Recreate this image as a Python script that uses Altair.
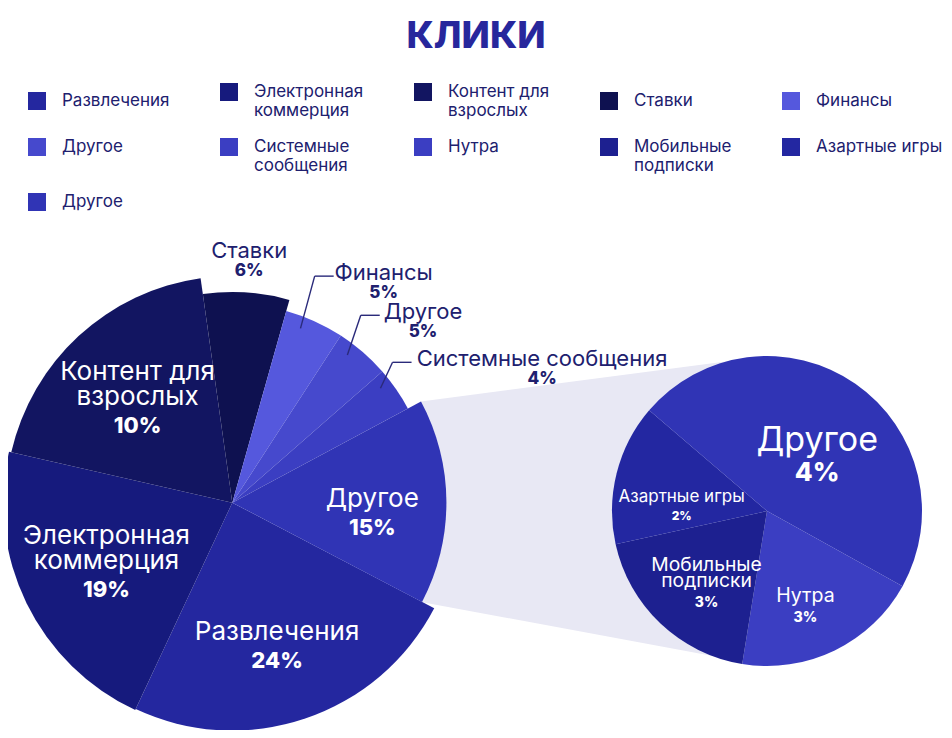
import math
import altair as alt
import pandas as pd

FONT = "Inter"
TITLE = "КЛИКИ"

# ---- data ----
main_names = ["Развлечения", "Электронная коммерция", "Контент для взрослых", "Ставки",
              "Финансы", "Другое", "Системные сообщения", "Другое"]
main_values = [24.3, 21.6, 19.2, 6.6, 4.8, 4.4, 3.6, 15.5]
main_labels = ["24%", "19%", "10%", "6%", "5%", "5%", "4%", "15%"]
main_z = [99.5, 100, 99, 92, 87, 87, 87, 93.5]
main_colors = ["#24279f", "#161a7d", "#121561", "#0e1150", "#5558dd", "#4649cd", "#3b3ec2", "#3034b5"]

sub_names = ["Нутра", "Мобильные подписки", "Азартные игры", "Другое"]
sub_values = [19.5, 19.0, 14.7, 46.8]
sub_labels = ["3%", "3%", "2%", "4%"]
sub_colors = ["#3b3ec2", "#1d2090", "#2327a1", "#3034b5"]

drill = len(main_names) - 1  # the main slice that is broken out into the small pie

# ---- layout (view coordinates) ----
W, H, PAD_TOP = 936, 662, 60
MAIN_C = (224.3, 434.7)
MAIN_R = 229
MAIN_START = 117.6
SUB_C = (759.0, 443.0)
SUB_R = 155
SUB_START = 119.0
IN_R_MAIN = 140
IN_R_SUB = 88
LH_MAIN, LH_SUB = 25, 16
OUT_RY = 252
OUT_X0, OUT_XK = 26, 190
OUTSIDE_MAX = 8
FS_IN, FS_IN_PCT = 26, 22
FS_OUT, FS_OUT_PCT = 22, 17
CHAR_W = 0.61
NAVY = "#20206e"


def make_keys(names, used):
    keys = []
    for n in names:
        k = n
        while k in used:
            k += "\u200b"
        used.add(k)
        keys.append(k)
    return keys


used = set()
main_keys = make_keys(main_names, used)
sub_keys = make_keys(sub_names, used)
legend_keys = [k for i, k in enumerate(main_keys) if i != drill] + sub_keys


def slices(values, start_deg):
    total = sum(values)
    acc = 0.0
    out = []
    for v in values:
        a0 = math.radians(start_deg) + 2 * math.pi * acc / total
        acc += v
        a1 = math.radians(start_deg) + 2 * math.pi * acc / total
        out.append((a0, a1, (a0 + a1) / 2))
    return out


def polar(c, r, a):
    return c[0] + r * math.sin(a), c[1] - r * math.cos(a)


def wrap(text, limit=14):
    if len(text) > limit and " " in text:
        i = text.rfind(" ")
        return text[:i] + "\n" + text[i + 1:]
    return text


main_geo = slices(main_values, MAIN_START)
sub_geo = slices(sub_values, SUB_START)

in_names, in_pct, out_names, out_pct, leaders = [], [], [], [], []
for i, (name, val, lab, z) in enumerate(zip(main_names, main_values, main_labels, main_z)):
    a0, a1, mid = main_geo[i]
    if val >= OUTSIDE_MAX:
        x, y = polar(MAIN_C, IN_R_MAIN, mid)
        txt = wrap(name)
        n = txt.count("\n")
        in_names.append({"x": x, "y": y + 5 - n * LH_MAIN, "text": txt})
        in_pct.append({"x": x, "y": y + 16, "text": lab})
    else:
        s = math.sin(mid)
        yc = MAIN_C[1] - OUT_RY * math.cos(mid)
        if s > 0.2:
            xl = MAIN_C[0] + OUT_X0 + OUT_XK * s
            xc = xl + len(name) * CHAR_W * FS_OUT / 2
            r_slice = MAIN_R * z / 100
            p0 = polar(MAIN_C, r_slice - 12, mid - math.radians(3))
            p1 = (xl - 22, yc + 3)
            p2 = (xl - 3, yc + 3)
            leaders.append({"x": p0[0], "y": p0[1], "x2": p1[0], "y2": p1[1]})
            leaders.append({"x": p1[0], "y": p1[1], "x2": p2[0], "y2": p2[1]})
        else:
            xc = MAIN_C[0] + OUT_RY * s
        out_names.append({"x": xc, "y": yc, "text": name})
        out_pct.append({"x": xc, "y": yc + 20, "text": lab})

sub_name_rows, sub_pct_rows = [], []
for i, (name, val, lab) in enumerate(zip(sub_names, sub_values, sub_labels)):
    a0, a1, mid = sub_geo[i]
    x, y = polar(SUB_C, IN_R_SUB, mid)
    txt = wrap(name)
    n = txt.count("\n")
    sub_name_rows.append({"x": x, "y": y + 12 - n * LH_SUB, "text": txt, "value": val})
    sub_pct_rows.append({"x": x, "y": y + 21, "text": lab, "value": val})

# connector band between the broken-out slice and the small pie
d0, d1, _ = main_geo[drill]
r_d = MAIN_R * main_z[drill] / 100
pa = polar(MAIN_C, r_d, d0)
pb = polar(MAIN_C, r_d, d1)
band_df = pd.DataFrame({"x": [pa[0], SUB_C[0]],
                        "y": [pa[1], SUB_C[1] - SUB_R],
                        "y2": [pb[1], SUB_C[1] + SUB_R]})

main_df = pd.DataFrame({"key": main_keys, "value": main_values, "z": main_z,
                        "order": list(range(len(main_keys)))})
sub_df = pd.DataFrame({"key": sub_keys, "value": sub_values,
                       "order": list(range(len(sub_keys)))})

label_expr = ("length(datum.label) > 14 ? "
              "[substring(datum.label, 0, lastindexof(datum.label, ' ')), "
              "substring(datum.label, lastindexof(datum.label, ' ') + 1)] : datum.label")

color = alt.Color(
    "key:N",
    scale=alt.Scale(domain=main_keys + sub_keys, range=main_colors + sub_colors),
    legend=alt.Legend(
        title=None, orient="none", legendX=20, legendY=15, direction="horizontal",
        columns=5, values=legend_keys, symbolType="square", symbolSize=324,
        symbolStrokeWidth=0, symbolOpacity=1, labelFont=FONT, labelFontSize=17,
        labelColor=NAVY, labelOffset=16, labelLimit=300, columnPadding=50,
        rowPadding=19, gridAlign="each", padding=0, labelExpr=label_expr,
    ),
)

X = lambda f: alt.X(f, scale=None, axis=None)
Y = lambda f: alt.Y(f, scale=None, axis=None)


def pie(df, start, total, center, radius_enc=None, radius=None):
    base = alt.Chart(df).transform_window(
        cum="sum(value)", sort=[alt.SortField("order")]
    ).transform_calculate(start="datum.cum - datum.value")
    mark = base.mark_arc(radius=radius) if radius is not None else base.mark_arc()
    enc = dict(
        theta=alt.Theta("start:Q", scale=alt.Scale(
            domain=[0, total], range=[math.radians(start), math.radians(start) + 2 * math.pi])),
        theta2="cum:Q",
        color=color,
        x=alt.value(center[0]), y=alt.value(center[1]),
    )
    if radius_enc is not None:
        enc["radius"] = radius_enc
    return mark.encode(**enc)


band = alt.Chart(band_df).mark_area(color="#e8e8f4", opacity=1).encode(
    x=X("x:Q"), y=Y("y:Q"), y2="y2:Q")

arcs_main = pie(main_df, MAIN_START, sum(main_values), MAIN_C,
                radius_enc=alt.Radius("z:Q", scale=alt.Scale(type="linear", domain=[0, 100],
                                                             range=[0, MAIN_R])))
arcs_sub = pie(sub_df, SUB_START, sum(sub_values), SUB_C, radius=SUB_R)

lead = alt.Chart(pd.DataFrame(leaders)).mark_rule(color="#2a2a7a", strokeWidth=1.4).encode(
    x=X("x:Q"), y=Y("y:Q"), x2="x2:Q", y2="y2:Q")

t_in_names = alt.Chart(pd.DataFrame(in_names)).mark_text(
    font=FONT, fontSize=FS_IN, color="white", align="center", baseline="alphabetic",
    lineBreak="\n", lineHeight=LH_MAIN
).encode(x=X("x:Q"), y=Y("y:Q"), text="text:N")

t_in_pct = alt.Chart(pd.DataFrame(in_pct)).mark_text(
    font=FONT, fontSize=FS_IN_PCT, fontWeight=800, color="white", align="center", baseline="top"
).encode(x=X("x:Q"), y=Y("y:Q"), text="text:N")

t_out_names = alt.Chart(pd.DataFrame(out_names)).mark_text(
    font=FONT, fontSize=FS_OUT, color=NAVY, align="center", baseline="middle"
).encode(x=X("x:Q"), y=Y("y:Q"), text="text:N")

t_out_pct = alt.Chart(pd.DataFrame(out_pct)).mark_text(
    font=FONT, fontSize=FS_OUT_PCT, fontWeight=800, color=NAVY, align="center", baseline="middle"
).encode(x=X("x:Q"), y=Y("y:Q"), text="text:N")

vmin, vmax = min(sub_values), max(sub_values)
t_sub_names = alt.Chart(pd.DataFrame(sub_name_rows)).mark_text(
    font=FONT, color="white", align="center", baseline="alphabetic", lineBreak="\n",
    lineHeight=LH_SUB
).encode(x=X("x:Q"), y=Y("y:Q"), text="text:N",
         size=alt.Size("value:Q", scale=alt.Scale(domain=[vmin, vmax], range=[17, 34]), legend=None))

t_sub_pct = alt.Chart(pd.DataFrame(sub_pct_rows)).mark_text(
    font=FONT, fontWeight=800, color="white", align="center", baseline="top"
).encode(x=X("x:Q"), y=Y("y:Q"), text="text:N",
         size=alt.Size("value:Q", scale=alt.Scale(domain=[vmin, vmax], range=[12, 26]), legend=None))

chart = alt.layer(
    band, arcs_main, arcs_sub, lead,
    t_in_names, t_in_pct, t_out_names, t_out_pct, t_sub_names, t_sub_pct,
).resolve_scale(
    theta="independent", radius="independent", size="independent"
).properties(
    width=W, height=H,
    title=alt.TitleParams(TITLE, font=FONT, fontSize=37, fontWeight=800, color="#27279c",
                          anchor="middle", offset=12, frame="group"),
    autosize=alt.AutoSizeParams(type="none"),
    padding={"left": 0, "top": PAD_TOP, "right": 0, "bottom": 0},
).configure_view(strokeWidth=0)

chart.save("out.html", embed_options={"renderer": "svg", "actions": False})
